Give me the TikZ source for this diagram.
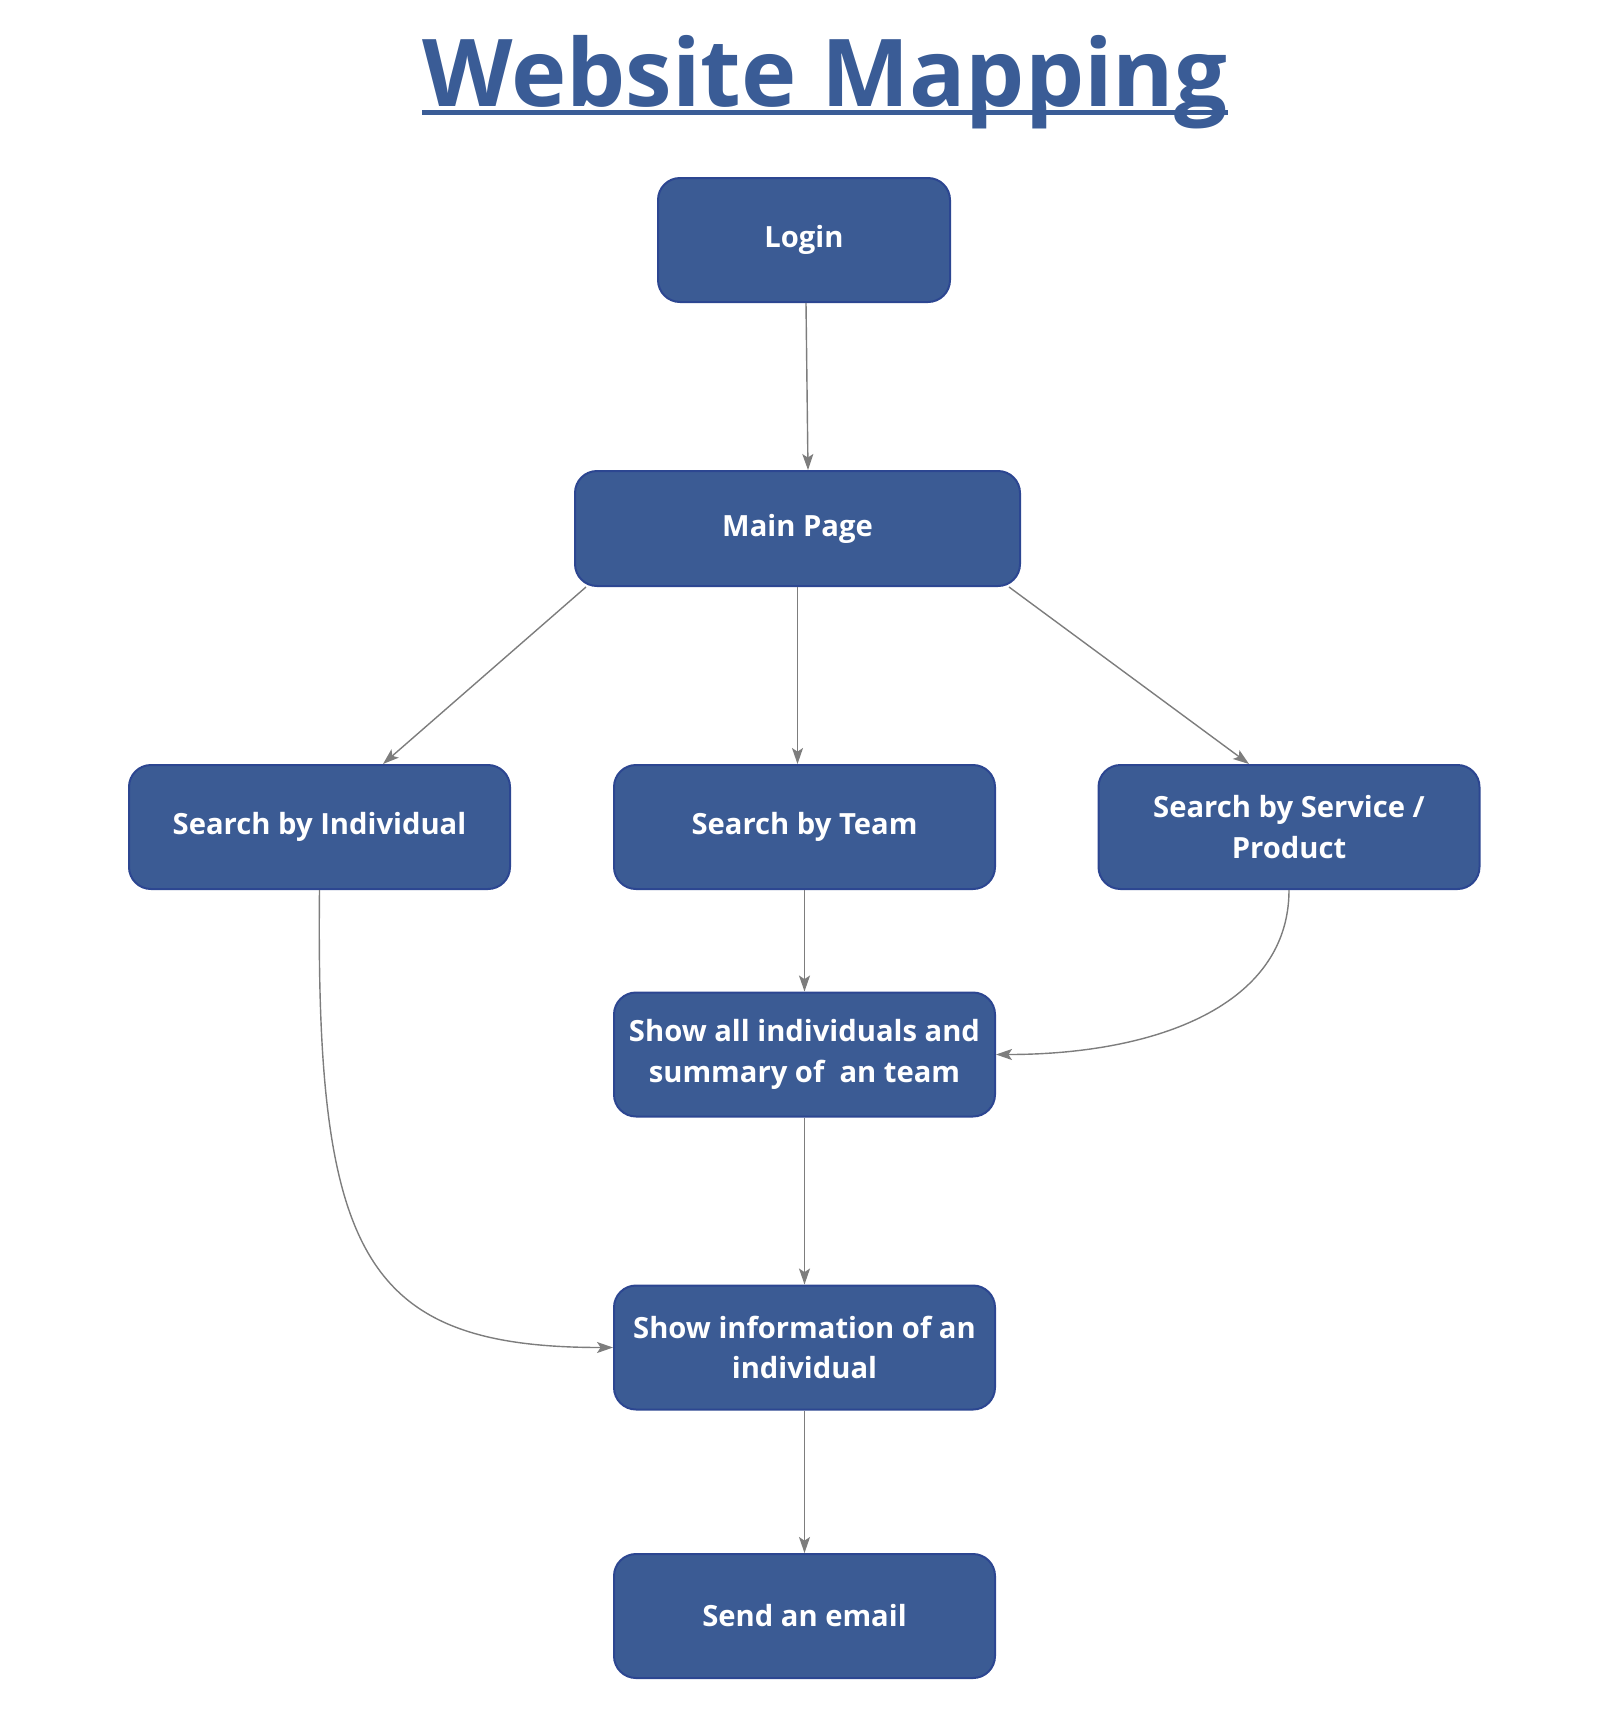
\documentclass[tikz,border=0pt]{standalone}
\usepackage{fontspec}
\setmainfont{Open Sans}
\usetikzlibrary{arrows.meta}
\definecolor{boxfill}{RGB}{59,91,148}
\definecolor{boxedge}{RGB}{44,70,145}
\definecolor{titleblue}{RGB}{58,92,150}
\definecolor{linkgray}{RGB}{125,125,125}
\begin{document}
\begin{tikzpicture}[x=0.5pt,y=-0.5pt,
  page/.style={draw=boxedge, line width=1pt, fill=boxfill, rounded corners=11pt,
    text=white, font=\bfseries\fontsize{14.6}{20.2}\selectfont, align=center, inner sep=0pt},
  wide/.style={minimum width=190.5pt, minimum height=62pt},
  link/.style={draw=linkgray, line width=0.7pt,
    -{Stealth[length=8pt,width=5.5pt,inset=1.8pt]}}]
\useasboundingbox (0,0) rectangle (1616,1714);

% heading
\node[anchor=base, inner sep=0pt, text=titleblue,
      font=\bfseries\fontsize{46.8}{52}\selectfont] (title) at (825,106) {Website Mapping};
\draw[titleblue, line width=2.3pt] ([yshift=-3.3pt]title.base west) -- ([yshift=-3.3pt]title.base east);

% pages
\node[page, minimum width=146pt, minimum height=62pt] (login) at (804,240) {Login};
\node[page, minimum width=222.5pt, minimum height=57.5pt] (main) at (797.5,528.5) {Main Page};
\node[page, wide] (indiv) at (319.5,827) {Search by Individual};
\node[page, wide] (team) at (804.5,827) {Search by Team};
\node[page, wide] (service) at (1289,827) {Search by Service /\\Product};
\node[page, wide] (teamview) at (804.5,1054.5) {Show all individuals and\\summary of\ \ an team};
\node[page, wide] (person) at (804.5,1347.5) {Show information of an\\individual};
\node[page, wide] (email) at (804.5,1616) {Send an email};

% links
\draw[link] ([xshift=1pt]login.south) -- ([xshift=2pt]login.south |- main.north);
\draw[link] ([xshift=6pt]main.south west) -- ([xshift=31.75pt]indiv.north);
\draw[link] (main.south) -- (main.south |- team.north);
\draw[link] ([xshift=-6pt]main.south east) -- ([xshift=-20pt]service.north);
\draw[link] (team.south) -- (teamview.north);
\draw[link] (service.south) .. controls +(0,115) and +(161,0) .. (teamview.east);
\draw[link] (indiv.south) .. controls +(-4,366) and +(-249,0) .. (person.west);
\draw[link] (teamview.south) -- (person.north);
\draw[link] (person.south) -- (email.north);
\end{tikzpicture}
\end{document}
